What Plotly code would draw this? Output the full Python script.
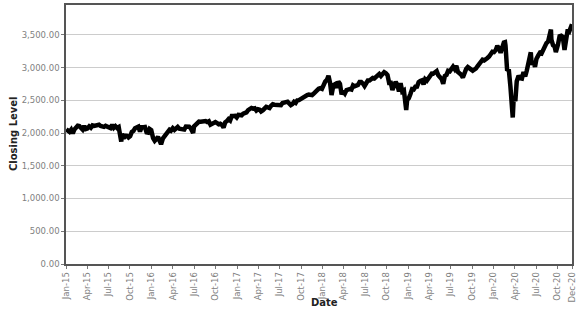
import plotly.graph_objects as go

# Weekly closing levels (approx.)
dates_2015 = ["2015-01-02","2015-01-09","2015-01-16","2015-01-23","2015-01-30","2015-02-06","2015-02-13","2015-02-20","2015-02-27",
              "2015-03-06","2015-03-13","2015-03-20","2015-03-27","2015-04-02","2015-04-10","2015-04-17","2015-04-24","2015-05-01",
              "2015-05-08","2015-05-15","2015-05-22","2015-05-29","2015-06-05","2015-06-12","2015-06-19","2015-06-26","2015-07-02",
              "2015-07-10","2015-07-17","2015-07-24","2015-07-31","2015-08-07","2015-08-14","2015-08-21","2015-08-25","2015-08-28",
              "2015-09-04","2015-09-11","2015-09-18","2015-09-25","2015-10-02","2015-10-09","2015-10-16","2015-10-23","2015-10-30",
              "2015-11-06","2015-11-13","2015-11-20","2015-11-27","2015-12-04","2015-12-11","2015-12-18","2015-12-24","2015-12-31"]
close_2015 = [2058,2044,2019,2051,1995,2055,2097,2110,2105,
              2071,2053,2108,2061,2067,2102,2081,2117,2108,
              2116,2122,2126,2107,2092,2094,2110,2101,2077,
              2077,2126,2079,2104,2078,2092,1971,1868,1989,
              1921,1961,1958,1931,1951,2015,2033,2075,2079,
              2099,2023,2089,2090,2092,2012,2006,2061,2044]

dates_2016 = ["2016-01-08","2016-01-15","2016-01-22","2016-01-29","2016-02-05","2016-02-11","2016-02-19","2016-02-26",
              "2016-03-04","2016-03-11","2016-03-18","2016-03-24","2016-04-01","2016-04-08","2016-04-15","2016-04-22","2016-04-29",
              "2016-05-06","2016-05-13","2016-05-20","2016-05-27","2016-06-03","2016-06-10","2016-06-17","2016-06-27","2016-07-01",
              "2016-07-08","2016-07-15","2016-07-22","2016-07-29","2016-08-05","2016-08-12","2016-08-19","2016-08-26",
              "2016-09-02","2016-09-09","2016-09-16","2016-09-23","2016-09-30","2016-10-07","2016-10-14","2016-10-21","2016-10-28",
              "2016-11-04","2016-11-11","2016-11-18","2016-11-25","2016-12-02","2016-12-09","2016-12-16","2016-12-23","2016-12-30"]
close_2016 = [1922,1880,1907,1940,1880,1829,1918,1948,
              1999,2022,2050,2036,2073,2048,2081,2092,2065,
              2057,2047,2052,2099,2099,2096,2071,2001,2103,
              2130,2162,2175,2174,2183,2184,2184,2169,
              2180,2128,2139,2165,2168,2153,2133,2141,2126,
              2085,2164,2182,2213,2192,2260,2259,2263,2239]

dates_2017 = ["2017-01-06","2017-01-13","2017-01-20","2017-01-27","2017-02-03","2017-02-10","2017-02-17","2017-02-24",
              "2017-03-03","2017-03-10","2017-03-17","2017-03-24","2017-03-31","2017-04-07","2017-04-13","2017-04-21","2017-04-28",
              "2017-05-05","2017-05-12","2017-05-19","2017-05-26","2017-06-02","2017-06-09","2017-06-16","2017-06-23","2017-06-30",
              "2017-07-07","2017-07-14","2017-07-21","2017-07-28","2017-08-04","2017-08-11","2017-08-18","2017-08-25",
              "2017-09-01","2017-09-08","2017-09-15","2017-09-22","2017-09-29","2017-10-06","2017-10-13","2017-10-20","2017-10-27",
              "2017-11-03","2017-11-10","2017-11-17","2017-11-24","2017-12-01","2017-12-08","2017-12-15","2017-12-22","2017-12-29"]
close_2017 = [2277,2275,2271,2295,2297,2316,2351,2367,
              2383,2373,2378,2344,2363,2356,2329,2349,2384,
              2399,2390,2382,2416,2439,2432,2433,2438,2423,
              2425,2459,2472,2472,2477,2441,2426,2443,
              2477,2461,2500,2502,2519,2549,2553,2575,2581,
              2588,2582,2578,2602,2642,2652,2676,2684,2674]

dates_2018 = ["2018-01-05","2018-01-12","2018-01-19","2018-01-26","2018-02-02","2018-02-08","2018-02-16","2018-02-23",
              "2018-03-02","2018-03-09","2018-03-16","2018-03-23","2018-03-29","2018-04-06","2018-04-13","2018-04-20","2018-04-27",
              "2018-05-04","2018-05-11","2018-05-18","2018-05-25","2018-06-01","2018-06-08","2018-06-15","2018-06-22","2018-06-29",
              "2018-07-06","2018-07-13","2018-07-20","2018-07-27","2018-08-03","2018-08-10","2018-08-17","2018-08-24","2018-08-31",
              "2018-09-07","2018-09-14","2018-09-21","2018-09-28","2018-10-05","2018-10-12","2018-10-19","2018-10-26",
              "2018-11-02","2018-11-09","2018-11-16","2018-11-23","2018-11-30","2018-12-07","2018-12-14","2018-12-21","2018-12-24",
              "2018-12-28"]
close_2018 = [2743,2786,2810,2873,2762,2581,2732,2747,
              2691,2786,2752,2588,2641,2604,2656,2670,2670,
              2663,2728,2713,2721,2735,2779,2780,2755,2718,
              2760,2801,2802,2819,2840,2833,2850,2875,2902,
              2872,2905,2930,2914,2886,2767,2768,2658,
              2723,2781,2736,2633,2760,2633,2650,2417,2351,
              2507]

dates_2019 = ["2019-01-04","2019-01-11","2019-01-18","2019-01-25","2019-02-01","2019-02-08","2019-02-15","2019-02-22","2019-03-01",
              "2019-03-08","2019-03-15","2019-03-22","2019-03-29","2019-04-05","2019-04-12","2019-04-18","2019-04-26",
              "2019-05-03","2019-05-10","2019-05-17","2019-05-24","2019-05-31","2019-06-07","2019-06-14","2019-06-21","2019-06-28",
              "2019-07-05","2019-07-12","2019-07-19","2019-07-26","2019-08-02","2019-08-09","2019-08-16","2019-08-23","2019-08-30",
              "2019-09-06","2019-09-13","2019-09-20","2019-09-27","2019-10-04","2019-10-11","2019-10-18","2019-10-25",
              "2019-11-01","2019-11-08","2019-11-15","2019-11-22","2019-11-29","2019-12-06","2019-12-13","2019-12-20","2019-12-27"]
close_2019 = [2532,2596,2671,2665,2707,2708,2776,2793,2804,
              2743,2822,2800,2834,2893,2907,2905,2940,
              2946,2881,2860,2827,2752,2873,2887,2950,2942,
              2990,3014,2977,3026,2932,2919,2889,2847,2926,
              2979,3007,2992,2962,2952,2970,2986,3023,
              3067,3093,3120,3110,3141,3146,3169,3221,3240]

dates_2020 = ["2020-01-03","2020-01-10","2020-01-17","2020-01-24","2020-01-31","2020-02-07","2020-02-14","2020-02-19","2020-02-21",
              "2020-02-28","2020-03-06","2020-03-13","2020-03-20","2020-03-23","2020-03-27","2020-04-03","2020-04-09","2020-04-17",
              "2020-04-24","2020-05-01","2020-05-08","2020-05-15","2020-05-22","2020-05-29","2020-06-05","2020-06-08","2020-06-12",
              "2020-06-19","2020-06-26","2020-07-02","2020-07-10","2020-07-17","2020-07-24","2020-07-31","2020-08-07","2020-08-14",
              "2020-08-21","2020-08-28","2020-09-02","2020-09-04","2020-09-11","2020-09-18","2020-09-23","2020-10-02","2020-10-09",
              "2020-10-16","2020-10-23","2020-10-30","2020-11-06","2020-11-13","2020-11-20","2020-11-27","2020-12-01"]
close_2020 = [3235,3265,3330,3295,3226,3328,3380,3386,3338,
              2954,2972,2711,2305,2237,2541,2489,2790,2875,
              2837,2831,2930,2864,2955,3044,3194,3232,3041,
              3098,3009,3130,3185,3225,3216,3271,3351,3373,
              3397,3508,3580,3427,3341,3319,3237,3348,3477,
              3484,3465,3270,3510,3585,3558,3638,3662]

dates = dates_2015 + dates_2016 + dates_2017 + dates_2018 + dates_2019 + dates_2020
closes = close_2015 + close_2016 + close_2017 + close_2018 + close_2019 + close_2020

tick_dates = ["2015-01-01","2015-04-01","2015-07-01","2015-10-01",
              "2016-01-01","2016-04-01","2016-07-01","2016-10-01",
              "2017-01-01","2017-04-01","2017-07-01","2017-10-01",
              "2018-01-01","2018-04-01","2018-07-01","2018-10-01",
              "2019-01-01","2019-04-01","2019-07-01","2019-10-01",
              "2020-01-01","2020-04-01","2020-07-01","2020-10-01","2020-12-01"]
tick_labels = ["Jan-15","Apr-15","Jul-15","Oct-15","Jan-16","Apr-16","Jul-16","Oct-16",
               "Jan-17","Apr-17","Jul-17","Oct-17","Jan-18","Apr-18","Jul-18","Oct-18",
               "Jan-19","Apr-19","Jul-19","Oct-19","Jan-20","Apr-20","Jul-20","Oct-20","Dec-20"]
y_ticks = [0, 500, 1000, 1500, 2000, 2500, 3000, 3500]

fig = go.Figure()
fig.add_trace(go.Scatter(x=dates, y=closes, mode="lines",
                         line=dict(color="black", width=4.5), showlegend=False))

font_family = "DejaVu Sans, Verdana, sans-serif"
ml, mr, mt, mb = 66, 7, 3, 48
pw, ph = 580 - ml - mr, 312 - mt - mb

def px_to_paper(px, py):
    return (px - ml) / pw, (312 - mb - py) / ph

yx, yy = px_to_paper(13, 133)
dx, dy = px_to_paper(325, 303)

fig.update_layout(
    width=580, height=312,
    margin=dict(l=ml, r=mr, t=mt, b=mb),
    paper_bgcolor="white", plot_bgcolor="white",
    font=dict(family=font_family, size=9, color="#808080"),
    xaxis=dict(type="date", range=["2015-01-01", "2020-12-01"],
               tickvals=tick_dates, ticktext=tick_labels, tickangle=-90,
               tickfont=dict(size=8.5, color="#7f7f7f"),
               showgrid=False, zeroline=False,
               showline=True, linecolor="#555555", linewidth=1.5, mirror=True,
               ticks="outside", ticklen=3, tickcolor="#777777"),
    yaxis=dict(range=[0, 3955], tickvals=y_ticks, tickformat=",.2f",
               tickfont=dict(size=8.5, color="#7f7f7f"),
               showgrid=True, gridcolor="#cccccc", gridwidth=1, zeroline=False,
               showline=True, linecolor="#555555", linewidth=1.5, mirror=True,
               ticks="outside", ticklen=3, tickcolor="#777777"),
    annotations=[
        dict(text="<b>Closing Level</b>", x=yx, y=yy, xref="paper", yref="paper",
             xanchor="center", yanchor="middle",
             showarrow=False, textangle=-90, font=dict(size=10, color="#222222", family=font_family)),
        dict(text="<b>Date</b>", x=dx, y=dy, xref="paper", yref="paper",
             xanchor="center", yanchor="middle", showarrow=False,
             font=dict(size=10, color="#222222", family=font_family)),
    ],
)

fig.write_html("out.html")
